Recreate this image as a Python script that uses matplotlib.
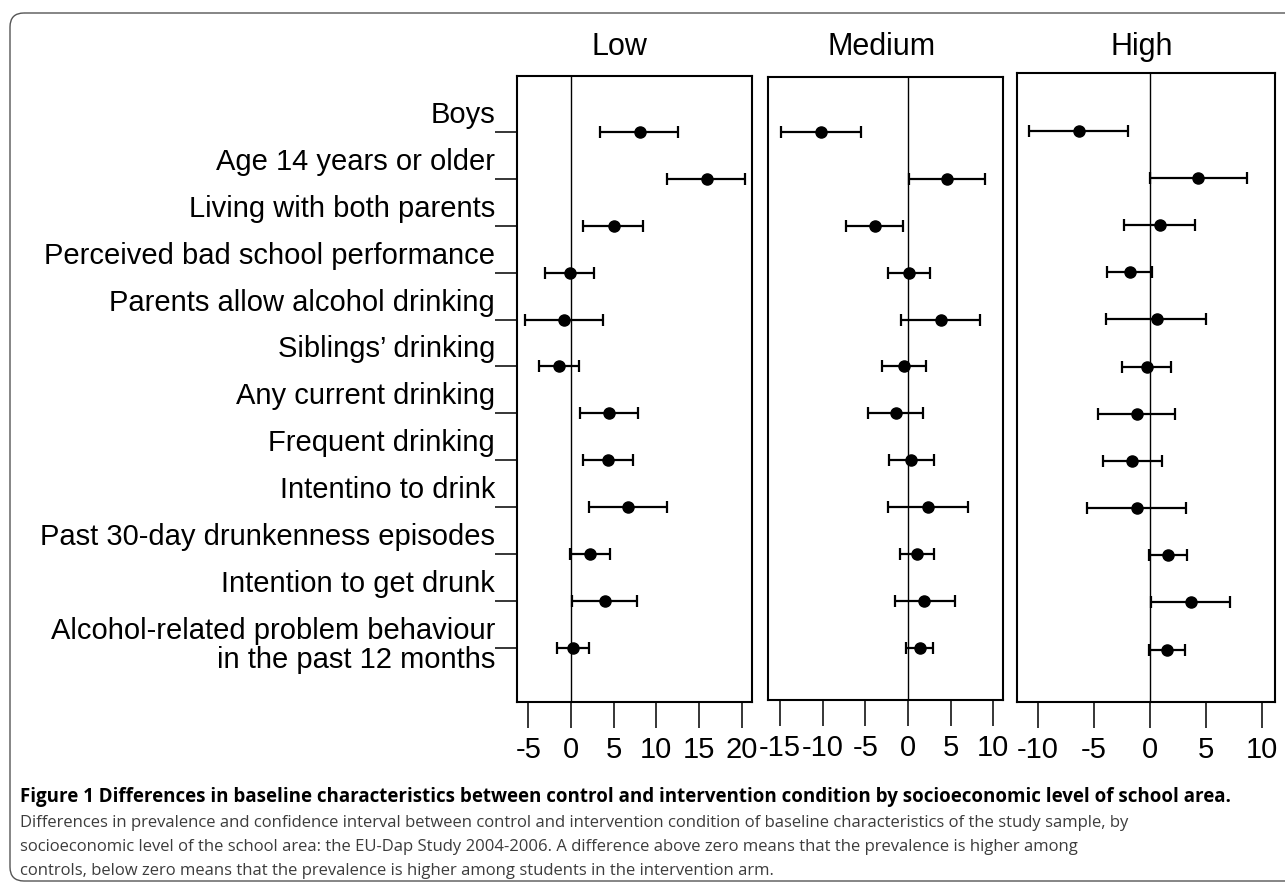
import numpy as np
import matplotlib
matplotlib.use("Agg")
import matplotlib.pyplot as plt
from matplotlib.transforms import ScaledTranslation
from matplotlib.patches import FancyBboxPatch
from matplotlib import font_manager

# ---------------- data ----------------
categories = [
    "Boys",
    "Age 14 years or older",
    "Living with both parents",
    "Perceived bad school performance",
    "Parents allow alcohol drinking",
    "Siblings\u2019 drinking",
    "Any current drinking",
    "Frequent drinking",
    "Intentino to drink",
    "Past 30-day drunkenness episodes",
    "Intention to get drunk",
    "Alcohol-related problem behaviour\nin the past 12 months",
]
panels = ["Low", "Medium", "High"]

low_est = [8.1, 15.9, 5.0, -0.1, -0.8, -1.4, 4.45, 4.3, 6.7, 2.2, 4.0, 0.25]
low_lo = [3.4, 11.3, 1.45, -3.05, -5.4, -3.75, 1.05, 1.4, 2.15, -0.15, 0.1, -1.6]
low_hi = [12.6, 20.4, 8.45, 2.75, 3.8, 0.95, 7.85, 7.25, 11.2, 4.55, 7.7, 2.15]

med_est = [-10.2, 4.6, -3.9, 0.1, 3.9, -0.5, -1.4, 0.4, 2.3, 1.0, 1.9, 1.4]
med_lo = [-14.9, 0.1, -7.3, -2.4, -0.8, -3.1, -4.7, -2.2, -2.3, -0.9, -1.5, -0.2]
med_hi = [-5.5, 9.0, -0.6, 2.6, 8.5, 2.1, 1.8, 3.0, 7.0, 3.0, 5.5, 2.9]

high_est = [-6.3, 4.3, 0.85, -1.8, 0.6, -0.3, -1.2, -1.6, -1.2, 1.6, 3.7, 1.5]
high_lo = [-10.8, 0.0, -2.3, -3.8, -3.9, -2.5, -4.6, -4.2, -5.6, -0.1, 0.1, -0.05]
high_hi = [-2.0, 8.7, 4.0, 0.15, 5.0, 1.9, 2.2, 1.1, 3.2, 3.3, 7.1, 3.1]

low_ticks = [-5, 0, 5, 10, 15, 20]
med_ticks = [-15, -10, -5, 0, 5, 10]
high_ticks = [-10, -5, 0, 5, 10]

caption_title = ("Figure 1 Differences in baseline characteristics between control and "
                 "intervention condition by socioeconomic level of school area.")
caption_body = [
    "Differences in prevalence and confidence interval between control and intervention condition of baseline characteristics of the study sample, by",
    "socioeconomic level of the school area: the EU-Dap Study 2004-2006. A difference above zero means that the prevalence is higher among",
    "controls, below zero means that the prevalence is higher among students in the intervention arm.",
]

# ---------------- figure ----------------
W, H = 1285, 883
fig = plt.figure(figsize=(W / 100, H / 100), dpi=100)
fig.patch.set_facecolor("white")

SANS = ["Liberation Sans", "DejaVu Sans"]
installed = {f.name for f in font_manager.fontManager.ttflist}
NARROW = (["Liberation Sans Narrow"] if "Liberation Sans Narrow" in installed else []) + SANS
tick_fs = 22 if "Liberation Sans Narrow" in installed else 21


def px_axes(l, t, r, b, **kw):
    return fig.add_axes([l / W, 1 - b / H, (r - l) / W, (b - t) / H], **kw)


# outer rounded frame
bg = fig.add_axes([0, 0, 1, 1], zorder=-5)
bg.set_xlim(0, W)
bg.set_ylim(H, 0)
bg.axis("off")
bg.add_patch(FancyBboxPatch((10, 13), 1300 - 10, 881 - 13,
                            boxstyle="round,pad=0,rounding_size=14",
                            fill=False, ec="#555555", lw=1.0))

specs = [
    # name, est, lo, hi, ticks, xlim, (l, t, r, b), ylim, title x
    ("Low", low_est, low_lo, low_hi, low_ticks, (-6.33, 21.22), (517, 76, 752, 702), (12.15, -1.19), 619),
    ("Medium", med_est, med_lo, med_hi, med_ticks, (-16.43, 11.15), (768, 77, 1003, 700), (12.11, -1.17), 882),
    ("High", high_est, high_lo, high_hi, high_ticks, (-11.875, 11.16), (1017, 73, 1275, 702), (12.11, -1.22), 1142),
]

rows = np.arange(len(categories))
axes = []
for name, est, lo, hi, ticks, xlim, box, ylim, tx in specs:
    ax = px_axes(*box)
    axes.append(ax)
    est = np.array(est)
    lo = np.array(lo)
    hi = np.array(hi)
    ax.axvline(0, color="black", lw=1.0, zorder=1)
    ax.errorbar(est, rows, xerr=[est - lo, hi - est], fmt="o", color="black",
                ms=8, capsize=4.5, elinewidth=1.6, capthick=1.6, zorder=3)
    ax.set_xlim(*xlim)
    ax.set_ylim(*ylim)
    for s in ax.spines.values():
        s.set_linewidth(1.5)
    ax.set_xticks(ticks)
    ax.set_xticklabels([str(t) for t in ticks], fontfamily=NARROW, fontsize=tick_fs)
    ax.tick_params(axis="x", length=18.7, width=1.1, pad=6, direction="out")
    fig.text(tx / W, 1 - 55 / H, name, ha="center", va="baseline",
             fontsize=22, fontfamily=SANS)

# y ticks / labels only on the first panel
ax0 = axes[0]
ax0.set_yticks(rows)
ax0.set_yticklabels([""] * len(rows))
ax0.tick_params(axis="y", length=15.8, width=1.1, direction="out")
for ax in axes[1:]:
    ax.set_yticks([])

ytrans = ax0.get_yaxis_transform()
for i, lab in enumerate(categories):
    for j, line in enumerate(lab.split("\n")):
        off = ScaledTranslation(-22 / 100, (9 - 29 * j) / 100, fig.dpi_scale_trans)
        ax0.text(0, i, line, transform=ytrans + off, ha="right", va="baseline",
                 fontsize=21, fontfamily=SANS, clip_on=False)

# caption
CAP = ["Open Sans", "DejaVu Sans"]
fig.text(20 / W, 1 - 802 / H, caption_title, ha="left", va="baseline",
         fontsize=13.5, fontweight="bold", fontfamily=CAP, color="black")
for k, line in enumerate(caption_body):
    fig.text(20 / W, 1 - (827 + 24 * k) / H, line, ha="left", va="baseline",
             fontsize=12.0, fontfamily=CAP, color="#3c3c3c")

fig.savefig("out.png", dpi=100, facecolor="white")
